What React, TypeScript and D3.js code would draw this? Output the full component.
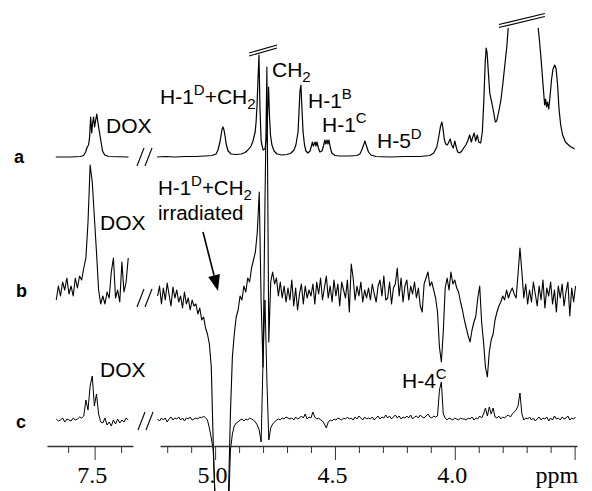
import React, { useRef, useEffect } from 'react';
import * as d3 from 'd3';

// axis ticks (ppm)
const leftMinorTicks = [7.6, 7.4];
const leftMajorTicks = [7.5];
const leftTickLabels = ['7.5'];
const rightMinorTicks = [5.2, 5.1, 4.9, 4.8, 4.7, 4.6, 4.4, 4.3, 4.2, 4.1, 3.9, 3.8, 3.7, 3.6];
const rightMajorTicks = [5.0, 4.5, 4.0, 3.5];
const rightTickLabels = ['5.0', '4.5', '4.0', 'ppm'];

// trace a (reference spectrum), [ppm, intensity]
const aLeft: [number, number][] = [
    [7.647, 0], [7.591, 0], [7.553, 0.5], [7.542, 1.5], [7.534, 5], [7.528, 10], [7.523, 12],
    [7.519, 20], [7.515, 40], [7.511, 24], [7.508, 33], [7.504, 40], [7.5, 30], [7.496, 37],
    [7.492, 43], [7.489, 37], [7.485, 30], [7.477, 17], [7.47, 6], [7.462, 2], [7.447, 0.5], [7.372, 0],
];

const aRight: [number, number | null][] = [
    [5.242, 0], [5.208, 0.5], [5.167, 0], [5.125, 0.5], [5.083, 0.5], [5.042, 1], [5.013, 1.5],
    [4.996, 3], [4.988, 7], [4.979, 16], [4.975, 22], [4.971, 28], [4.967, 30], [4.963, 27],
    [4.958, 20], [4.954, 13], [4.946, 6], [4.933, 3], [4.913, 2.5], [4.892, 3], [4.875, 4.5],
    [4.863, 7], [4.85, 11], [4.842, 16], [4.833, 25], [4.829, 35], [4.825, 52], [4.821, 78],
    [4.817, 102], [4.813, 50], [4.808, 16], [4.8, 7], [4.792, 8], [4.785, 20], [4.781, 45],
    [4.777, 70], [4.773, 40], [4.769, 22], [4.763, 12], [4.754, 6], [4.742, 3], [4.721, 2],
    [4.7, 2.5], [4.683, 4], [4.671, 7], [4.663, 12], [4.654, 25], [4.65, 45], [4.646, 66],
    [4.642, 72], [4.638, 50], [4.633, 25], [4.627, 12], [4.621, 6], [4.613, 4], [4.604, 6],
    [4.598, 11], [4.594, 15], [4.59, 11], [4.583, 15], [4.579, 11], [4.575, 15], [4.569, 9],
    [4.563, 5], [4.554, 6], [4.548, 11], [4.542, 17], [4.538, 13], [4.533, 17], [4.529, 13],
    [4.525, 17], [4.519, 9], [4.513, 4], [4.5, 1.5], [4.479, 1], [4.438, 1], [4.408, 1.5],
    [4.396, 3], [4.388, 7], [4.379, 13], [4.375, 16], [4.371, 13], [4.367, 10], [4.36, 5],
    [4.35, 2], [4.329, 0.5], [4.271, 0], [4.208, 0.5], [4.146, 0.5], [4.104, 1.5], [4.088, 4],
    [4.075, 10], [4.067, 20], [4.06, 30], [4.054, 35], [4.05, 30], [4.044, 18], [4.038, 13],
    [4.031, 12], [4.025, 15], [4.019, 18], [4.013, 12], [4.006, 9], [4.0, 16], [3.994, 10],
    [3.988, 5], [3.979, 4], [3.971, 6], [3.963, 9], [3.954, 12], [3.946, 16], [3.938, 22],
    [3.931, 15], [3.925, 20], [3.919, 24], [3.913, 16], [3.906, 22], [3.9, 15], [3.892, 14],
    [3.885, 25], [3.879, 55], [3.873, 95], [3.869, 109], [3.865, 104], [3.86, 85], [3.854, 64],
    [3.846, 55], [3.838, 45], [3.831, 35], [3.825, 36], [3.817, 45], [3.808, 56], [3.8, 72],
    [3.792, 90], [3.783, 110], [3.777, 129], [3.72, null], [3.652, 129], [3.646, 115],
    [3.638, 92], [3.631, 70], [3.625, 52], [3.621, 58], [3.617, 50], [3.613, 55], [3.608, 48],
    [3.602, 62], [3.596, 78], [3.59, 88], [3.583, 92], [3.577, 88], [3.571, 72], [3.565, 48],
    [3.558, 32], [3.55, 22], [3.538, 15], [3.521, 11], [3.5, 8],
];

// traces b and c (NOE difference spectra), sampled every 0.008 ppm
const gridStep = 0.008;
const leftStart = 7.645;
const rightStart = 5.24;

const bLeft = [
    -8, 6, -4, 10, 2, 14, -2, 6, -4, 14,
    4, 16, 12, 24, 34, 70, 127, 110, 75, 40,
    2, -12, -4, -12, 0, -6, 20, 34, -6, 2,
    -10, 30, 0, 10, 34,
];

const bRight = [
    -4, 6, -12, 4, -8, 9, -3, -14, 5, -6,
    2, -10, -4, -16, 0, -12, -6, -18, -8, -14,
    -12, -22, -16, -28, -25, -36, -42, -52, -75, -150,
    -210, -220, -220, -220, -220, -220, -220, -200, -120, -65,
    -42, -25, -18, -4, -8, 6, 0, 14, 10, 24,
    32, 40, 60, 100, -10, -75, 90, 225, -50, 10,
    20, 8, 14, -4, 10, -6, 6, -10, 4, -8,
    12, -14, 4, -18, -2, 8, -12, 6, -6, 2,
    -4, 8, -12, 10, -2, 14, -8, 4, 16, -6,
    6, -10, 12, -4, 8, -14, 10, 2, -6, 12,
    -20, 28, 14, -8, 6, -4, 10, -10, 2, -6,
    4, -8, 8, -2, -10, 6, 12, -4, 16, -8,
    -6, 10, -12, 4, 8, 24, -4, 14, -10, 6,
    12, -8, 6, -2, 10, -6, 4, -14, -20, 8,
    14, 20, 6, 10, 2, -6, -20, -55, -70, -40,
    4, 14, 2, 20, 8, 12, 4, 0, -10, -18,
    -28, -36, -44, -50, -38, -30, -24, -6, 6, -30,
    -50, -75, -85, -60, -48, -42, -28, -20, -14, -10,
    -4, -8, 2, -6, 0, 4, -2, -6, 18, 44,
    20, -6, 8, -12, 2, -10, 10, -2, -14, 6,
    -8, 12, -16, 4, -4, 10, -12, 2, -20, 6,
    -6, 8, -14, 0, 10, -24, 4, -10, 6,
];

const cLeft = [
    1, -1, 0, 2, -2, 1, 0, -1, 2, 0,
    1, 3, 2, 4, 20, 10, 34, 44, 14, 26,
    6, -2, -3, 2, -5, -2, -6, 0, -4, 1,
    -3, 0, -2, 2, 0,
];

const cRight = [
    1, -1, 2, 0, 2, -2, 1, 3, 0, 2,
    1, 3, 0, 2, -1, 2, 1, 3, 0, 1,
    2, 1, 3, 2, 4, 2, 0, -8, -18, -30,
    -80, -110, -110, -110, -110, -110, -110, -90, -30, -14,
    -6, -3, -2, 0, 1, -1, 1, 0, 2, 1,
    0, -2, -5, -10, -22, 60, 120, 40, -20, -8,
    -4, -2, 0, 1, 0, 2, 1, 3, 2, 1,
    2, 0, 3, 1, 2, 4, 2, 6, 1, 3,
    2, 8, 3, 1, 2, 0, -1, -4, -8, -2,
    0, -1, 1, 0, 2, 1, 0, 2, 1, 3,
    1, 2, 0, 3, 1, 4, 2, 0, 3, 1,
    2, 1, 3, 0, 2, 4, 1, 3, 2, 5,
    2, 4, 1, 3, 5, 2, 4, 1, 3, 2,
    4, 2, 5, 1, 3, 4, 2, 5, 3, 2,
    4, 6, 3, 2, 4, 3, 4, 30, 38, 6,
    2, 0, 2, 1, 0, 2, 1, 0, 2, 1,
    1, 0, 2, 1, 3, 0, 2, 1, 4, 2,
    6, 12, 4, 13, 6, 12, 3, 2, 4, 1,
    3, 2, 4, 5, 3, 6, 8, 10, 14, 27,
    6, 0, 2, 1, 3, 0, 2, -1, 1, 3,
    0, 2, 1, 3, -1, 2, 0, 4, 1, 2,
    0, 3, 1, 2, 4, 0, 2, 1, 3,
];

const W = 592;
const H = 491;
const SANS = 'Liberation Sans, Arial, sans-serif';
const SERIF = 'Liberation Serif, Times New Roman, serif';

type Part = [string, 'n' | 'sup' | 'sub'];

const sampled = (values: number[], start: number): [number, number][] =>
    values.map((v, i) => [start - i * gridStep, v]);

const App = () => {
    const chartRef = useRef<SVGSVGElement>(null);

    useEffect(() => {
        const svg = d3.select(chartRef.current);
        svg.selectAll('*').remove();

        const xL = d3.scaleLinear().domain([7.68, 7.355]).range([47, 133]);
        const xR = d3.scaleLinear().domain([5.23, 3.49]).range([160, 577]);
        const yA = d3.scaleLinear().domain([0, 100]).range([157, 57]);
        const yB = d3.scaleLinear().domain([0, 100]).range([292, 192]);
        const yC = d3.scaleLinear().domain([0, 100]).range([420, 320]);

        const drawTrace = (data: [number, number | null][], x: any, y: any, width: number) => {
            const line = d3.line<[number, number | null]>()
                .defined(d => d[1] !== null)
                .x(d => x(d[0]))
                .y(d => y(d[1] as number));
            svg.append('path')
                .datum(data)
                .attr('d', line)
                .attr('fill', 'none')
                .attr('stroke', '#000')
                .attr('stroke-width', width)
                .attr('stroke-linejoin', 'round');
        };

        drawTrace(aLeft, xL, yA, 1.2);
        drawTrace(aRight, xR, yA, 1.2);
        drawTrace(sampled(bLeft, leftStart), xL, yB, 1.1);
        drawTrace(sampled(bRight, rightStart), xR, yB, 1.1);
        drawTrace(sampled(cLeft, leftStart), xL, yC, 1.0);
        drawTrace(sampled(cRight, rightStart), xR, yC, 1.0);

        // axes
        const axisY = 446;
        const drawAxis = (x: any, minor: number[], major: number[], labels: string[]) => {
            const g1 = svg.append('g').attr('transform', `translate(0,${axisY})`)
                .call(d3.axisBottom(x).tickValues(minor).tickSize(7).tickSizeOuter(0).tickFormat(() => ''));
            g1.select('.domain').attr('stroke', '#333').attr('stroke-width', 1.6);
            g1.selectAll('.tick line').attr('stroke', '#333');

            const g2 = svg.append('g').attr('transform', `translate(0,${axisY})`)
                .call(d3.axisBottom(x).tickValues(major).tickSize(14).tickPadding(6)
                    .tickFormat((d, i) => labels[i]));
            g2.select('.domain').remove();
            g2.selectAll('.tick line').attr('stroke', '#333');
            g2.selectAll('.tick text')
                .attr('font-family', SERIF)
                .attr('font-size', 24)
                .attr('fill', '#000')
                .attr('dx', -3);
            g2.selectAll('.tick text').filter(d => d === 3.5)
                .attr('text-anchor', 'end')
                .attr('dx', 3);
        };
        drawAxis(xL, leftMinorTicks, leftMajorTicks, leftTickLabels);
        drawAxis(xR, rightMinorTicks, rightMajorTicks, rightTickLabels);

        // break marks between the two ppm ranges
        const slash = (cx: number, cy: number) => {
            [-5, 3].forEach(off => {
                svg.append('line')
                    .attr('x1', cx + off - 3).attr('y1', cy + 9)
                    .attr('x2', cx + off + 4).attr('y2', cy - 9)
                    .attr('stroke', '#000').attr('stroke-width', 1.1);
            });
        };
        slash(145, yA(0));
        slash(145, yB(-6));
        slash(146, yC(-1));

        // off-scale marks over truncated peaks
        const cut = (cx: number, cy: number, half: number, rise: number) => {
            [0, 3].forEach(off => {
                svg.append('line')
                    .attr('x1', cx - half).attr('y1', cy + rise + off)
                    .attr('x2', cx + half).attr('y2', cy - rise + off)
                    .attr('stroke', '#000').attr('stroke-width', 1.1);
            });
        };
        cut(xR(4.8), yA(108), 14, 4);
        cut(xR(3.72), yA(138), 23, 5.5);

        // labels
        const label = (x: number, y: number, parts: Part[], size = 21) => {
            const t = svg.append('text')
                .attr('x', x).attr('y', y)
                .attr('font-family', SANS)
                .attr('font-size', size)
                .attr('fill', '#000');
            let shift = 0;
            parts.forEach(([s, kind]) => {
                const target = kind === 'sup' ? -9 : kind === 'sub' ? 5 : 0;
                t.append('tspan')
                    .attr('dy', target - shift)
                    .attr('font-size', kind === 'n' ? size : 15)
                    .text(s);
                shift = target;
            });
        };

        const traceLetter = (x: number, y: number, s: string) => {
            svg.append('text')
                .attr('x', x).attr('y', y)
                .attr('font-family', SANS)
                .attr('font-size', 18)
                .attr('font-weight', 'bold')
                .text(s);
        };
        traceLetter(14, 163, 'a');
        traceLetter(16, 297, 'b');
        traceLetter(16, 428, 'c');

        label(106, 133, [['DOX', 'n']]);
        label(160, 104, [['H-1', 'n'], ['D', 'sup'], ['+CH', 'n'], ['2', 'sub']]);
        label(272, 77, [['CH', 'n'], ['2', 'sub']]);
        label(308, 108, [['H-1', 'n'], ['B', 'sup']]);
        label(322, 132, [['H-1', 'n'], ['C', 'sup']]);
        label(377, 148, [['H-5', 'n'], ['D', 'sup']]);

        label(100, 230, [['DOX', 'n']]);
        label(158, 195, [['H-1', 'n'], ['D', 'sup'], ['+CH', 'n'], ['2', 'sub']], 20.5);
        label(158, 220, [['irradiated', 'n']], 20.5);

        label(100, 377, [['DOX', 'n']]);
        label(402, 388, [['H-4', 'n'], ['C', 'sup']]);

        // arrow to the irradiated signal
        const tail: [number, number] = [203, 232];
        const tip: [number, number] = [218, 291];
        const dx = tip[0] - tail[0];
        const dy = tip[1] - tail[1];
        const len = Math.hypot(dx, dy);
        const ux = dx / len;
        const uy = dy / len;
        const bx = tip[0] - 16 * ux;
        const by = tip[1] - 16 * uy;
        svg.append('line')
            .attr('x1', tail[0]).attr('y1', tail[1])
            .attr('x2', bx).attr('y2', by)
            .attr('stroke', '#000').attr('stroke-width', 1.6);
        svg.append('polygon')
            .attr('points', [
                [tip[0], tip[1]],
                [bx - 6 * uy, by + 6 * ux],
                [bx + 6 * uy, by - 6 * ux],
            ].map(p => p.join(',')).join(' '))
            .attr('fill', '#000');
    }, []);

    return (
        <svg
            ref={chartRef}
            width={W}
            height={H}
            style={{ position: 'fixed', left: 0, top: 0, background: '#fff' }}
        />
    );
};

export default App;
